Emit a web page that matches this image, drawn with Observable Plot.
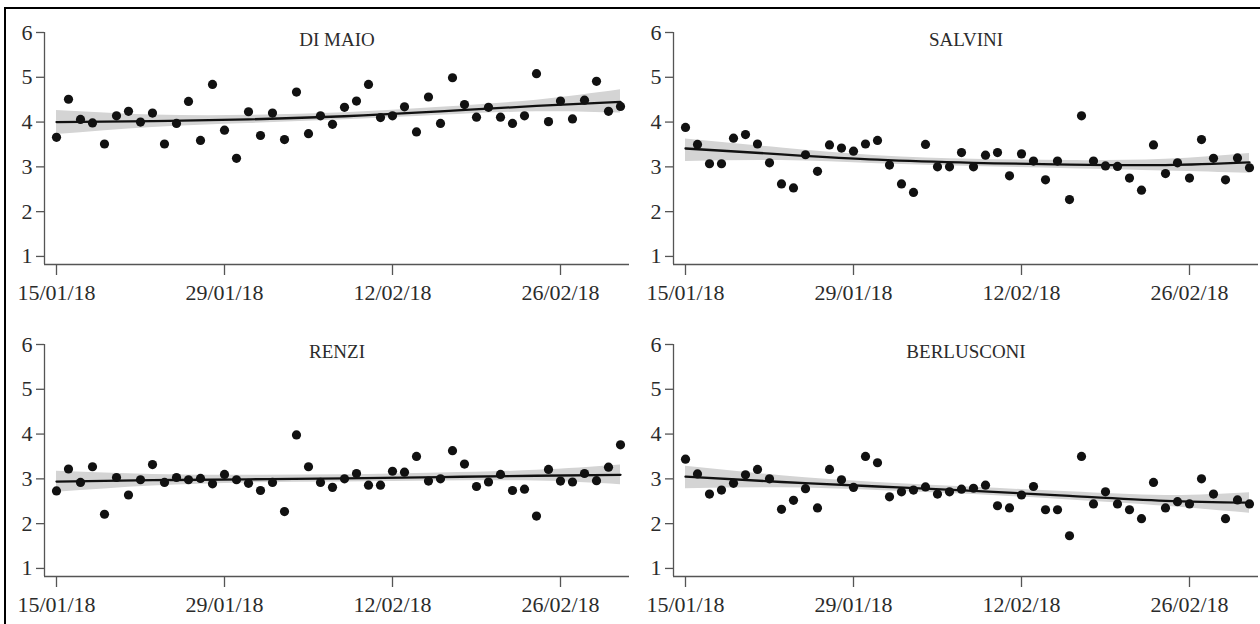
<!DOCTYPE html>
<html>
<head>
<meta charset="utf-8">
<script src="https://cdn.jsdelivr.net/npm/d3@7"></script>
<script src="https://cdn.jsdelivr.net/npm/@observablehq/plot@0.6"></script>
<style>
  html, body { margin: 0; padding: 0; background: #fff; }
  #wrap { position: relative; width: 1260px; height: 624px; overflow: hidden; background: #fff; }
  #frame { position: absolute; left: 4px; top: 7px; width: 1300px; height: 700px;
           border-left: 2px solid #000; border-top: 2px solid #000; box-sizing: border-box; }
  .panel { position: absolute; }
</style>
</head>
<body>
<div id="wrap"><div id="frame"></div></div>
<script>
// ---- data (daily values, 15/01/18 onward) ----
const startDate = "2018-01-15";
const panelTitles = ["DI MAIO", "SALVINI", "RENZI", "BERLUSCONI"];
const diMaio = [3.66,4.51,4.06,3.98,3.51,4.14,4.24,4.00,4.20,3.51,3.97,4.46,3.59,4.84,3.82,3.19,
  4.23,3.70,4.20,3.61,4.67,3.74,4.14,3.95,4.33,4.47,4.84,4.10,4.14,4.34,3.78,4.56,
  3.97,4.99,4.39,4.11,4.33,4.11,3.97,4.14,5.08,4.01,4.47,4.07,4.49,4.91,4.24,4.35];
const salvini = [3.88,3.50,3.07,3.07,3.64,3.72,3.51,3.09,2.62,2.53,3.27,2.90,3.49,3.42,3.35,3.51,
  3.59,3.04,2.62,2.43,3.50,3.00,3.00,3.32,3.00,3.26,3.32,2.80,3.29,3.13,2.71,3.13,
  2.27,4.14,3.13,3.02,3.01,2.75,2.48,3.49,2.85,3.09,2.75,3.61,3.19,2.71,3.20,2.98];
const renzi = [2.73,3.22,2.92,3.27,2.21,3.03,2.64,2.98,3.32,2.92,3.03,2.98,3.01,2.89,3.10,2.98,
  2.90,2.74,2.92,2.27,3.98,3.27,2.92,2.81,3.00,3.12,2.86,2.86,3.17,3.15,3.50,2.95,
  3.00,3.63,3.33,2.83,2.93,3.10,2.74,2.77,2.17,3.21,2.95,2.93,3.12,2.96,3.26,3.76];
const berlusconi = [3.44,3.11,2.66,2.75,2.90,3.09,3.21,3.00,2.32,2.52,2.78,2.35,3.21,2.98,2.81,3.50,
  3.36,2.60,2.71,2.75,2.82,2.66,2.71,2.77,2.79,2.86,2.40,2.35,2.64,2.83,2.31,2.31,
  1.73,3.50,2.44,2.71,2.44,2.31,2.11,2.92,2.35,2.49,2.44,3.00,2.66,2.11,2.53,2.44];

// ---- smoothed trend and confidence band at these days ----
const smoothDays = [0, 8, 16, 24, 32, 40, 47];
const diMaioFit = [4.00, 4.02, 4.06, 4.13, 4.24, 4.36, 4.45];
const diMaioLo  = [3.72, 3.88, 3.97, 4.05, 4.15, 4.23, 4.20];
const diMaioHi  = [4.26, 4.16, 4.15, 4.21, 4.33, 4.49, 4.72];
const salviniFit = [3.41, 3.28, 3.16, 3.09, 3.05, 3.04, 3.10];
const salviniLo  = [3.12, 3.14, 3.07, 3.01, 2.96, 2.91, 2.86];
const salviniHi  = [3.62, 3.42, 3.25, 3.17, 3.14, 3.17, 3.30];
const renziFit = [2.94, 2.97, 2.99, 3.01, 3.04, 3.07, 3.09];
const renziLo  = [2.70, 2.84, 2.91, 2.93, 2.95, 2.95, 2.87];
const renziHi  = [3.17, 3.10, 3.08, 3.09, 3.13, 3.19, 3.31];
const berlusconiFit = [3.05, 2.93, 2.83, 2.73, 2.62, 2.51, 2.47];
const berlusconiLo  = [2.78, 2.80, 2.74, 2.65, 2.53, 2.39, 2.23];
const berlusconiHi  = [3.28, 3.07, 2.92, 2.81, 2.71, 2.63, 2.69];

const tickDates = ["2018-01-15", "2018-01-29", "2018-02-12", "2018-02-26"];
const tickLabels = ["15/01/18", "29/01/18", "12/02/18", "26/02/18"];
const yTicks = [1, 2, 3, 4, 5, 6];

const DAY = 86400000;
const t0 = Date.parse(startDate + "T00:00:00Z");
const toDate = d => new Date(t0 + d * DAY);
const series = [
  {vals: diMaio, fit: diMaioFit, lo: diMaioLo, hi: diMaioHi},
  {vals: salvini, fit: salviniFit, lo: salviniLo, hi: salviniHi},
  {vals: renzi, fit: renziFit, lo: renziLo, hi: renziHi},
  {vals: berlusconi, fit: berlusconiFit, lo: berlusconiLo, hi: berlusconiHi}
];
const positions = [[0, 0], [629, 0], [0, 312], [629, 312]];
const font = "'Liberation Serif', 'DejaVu Serif', serif";
const ink = "#2b2b2b";

series.forEach((s, idx) => {
  const pts = s.vals.map((v, i) => ({date: toDate(i), v}));
  const sm = smoothDays.map((d, i) => ({date: toDate(d), fit: s.fit[i], lo: s.lo[i], hi: s.hi[i]}));
  const xDomain = [toDate(-1), toDate(47.75)];
  const yDomain = [0.82, 6];
  const chart = Plot.plot({
    width: 629, height: 312,
    marginLeft: 44, marginRight: 0, marginTop: 32, marginBottom: 48,
    style: {fontFamily: font, fontSize: "22px", color: ink, background: "transparent", overflow: "visible"},
    x: {type: "utc", domain: xDomain},
    y: {domain: yDomain},
    marks: [
      Plot.areaY(sm, {x: "date", y1: "lo", y2: "hi", fill: "#d4d4d4", curve: "natural"}),
      Plot.line(sm, {x: "date", y: "fit", stroke: "#111", strokeWidth: 2.3, curve: "natural"}),
      Plot.dot(pts, {x: "date", y: "v", r: 4.6, fill: "#111", stroke: "none"}),
      Plot.ruleX([xDomain[0]], {y1: yDomain[0], y2: 6, stroke: "#555", strokeWidth: 1.3}),
      Plot.ruleY([yDomain[0]], {x1: xDomain[0], x2: xDomain[1], stroke: "#555", strokeWidth: 1.3}),
      Plot.axisY(yTicks, {tickSize: 8, tickPadding: 4, fontSize: 22, stroke: "#555", strokeWidth: 1.3, fill: ink, label: null}),
      Plot.axisX(tickDates.map(d => new Date(d + "T00:00:00Z")), {
        tickSize: 11, tickPadding: 9, fontSize: 22, stroke: "#555", strokeWidth: 1.3, fill: ink, label: null,
        tickFormat: d => tickLabels[tickDates.indexOf(d.toISOString().slice(0, 10))]
      }),
      Plot.text([panelTitles[idx]], {frameAnchor: "top", dy: 0, fontSize: 19, fill: ink, text: d => d})
    ]
  });
  chart.classList.add("panel");
  chart.style.left = positions[idx][0] + "px";
  chart.style.top = positions[idx][1] + "px";
  document.getElementById("wrap").appendChild(chart);
});
</script>
</body>
</html>
